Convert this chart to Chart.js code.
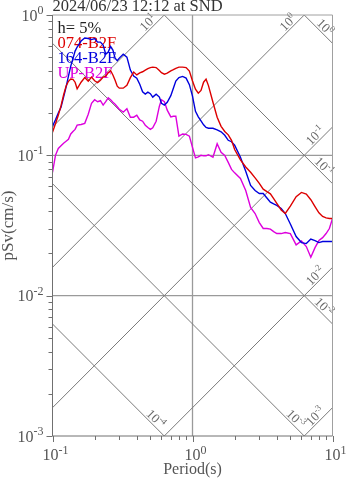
<!DOCTYPE html>
<html>
<head>
<meta charset="utf-8">
<script src="https://cdn.jsdelivr.net/npm/chart.js@4.4.1/dist/chart.umd.min.js"></script>
<style>
  html, body { margin: 0; padding: 0; background: #fff; overflow: hidden; }
  canvas { display: block; }
</style>
</head>
<body>
<canvas id="c" width="347" height="478"></canvas>
<script>
// Response spectra, pSv (cm/s) vs. period (s), h = 5%
const periods = [0.10,0.105,0.11,0.115,0.12,0.125,0.13,0.135,0.14,0.145,0.15,0.16,0.17,0.18,0.19,0.20,0.21,0.22,0.23,0.24,0.25,0.26,0.27,0.28,0.29,0.30,0.32,0.34,0.36,0.38,0.40,0.42,0.44,0.46,0.48,0.50,0.52,0.55,0.58,0.60,0.63,0.66,0.70,0.73,0.76,0.80,0.85,0.90,0.95,1.0,1.05,1.1,1.15,1.2,1.25,1.3,1.4,1.5,1.6,1.7,1.8,1.9,2.0,2.2,2.4,2.6,2.8,3.0,3.2,3.4,3.6,3.8,4.0,4.3,4.6,5.0,5.5,6.0,6.5,7.0,7.5,8.0,8.5,9.0,9.5,10];

const pSv074 = [0.146,0.168,0.193,0.225,0.269,0.311,0.337,0.350,0.348,0.332,0.298,0.332,0.358,0.338,0.361,0.340,0.330,0.343,0.361,0.367,0.387,0.402,0.374,0.343,0.311,0.301,0.301,0.316,0.358,0.392,0.374,0.387,0.394,0.405,0.415,0.422,0.425,0.422,0.402,0.388,0.379,0.385,0.400,0.408,0.417,0.425,0.425,0.422,0.398,0.339,0.296,0.277,0.290,0.332,0.349,0.314,0.239,0.187,0.161,0.148,0.140,0.128,0.110,0.0929,0.0826,0.0757,0.0691,0.0631,0.0574,0.0551,0.0532,0.0491,0.0454,0.0408,0.0385,0.0434,0.0508,0.0544,0.0529,0.0483,0.0431,0.0389,0.0367,0.0358,0.0355,0.0355];

const pSv164 = [0.161,0.179,0.200,0.220,0.260,0.306,0.367,0.432,0.489,0.553,0.591,0.652,0.685,0.680,0.668,0.680,0.641,0.641,0.611,0.526,0.544,0.596,0.562,0.493,0.473,0.493,0.526,0.501,0.405,0.367,0.355,0.321,0.284,0.273,0.282,0.275,0.260,0.273,0.260,0.235,0.228,0.239,0.266,0.301,0.338,0.358,0.365,0.355,0.319,0.264,0.206,0.188,0.176,0.165,0.158,0.156,0.156,0.152,0.147,0.139,0.128,0.125,0.118,0.0968,0.0769,0.0610,0.0562,0.0535,0.0535,0.0497,0.0464,0.0451,0.0440,0.0418,0.0385,0.0324,0.0264,0.0239,0.0235,0.0253,0.0247,0.0239,0.0243,0.0243,0.0243,0.0243];

const pSvUP = [0.0756,0.100,0.112,0.117,0.122,0.126,0.130,0.142,0.148,0.153,0.164,0.166,0.169,0.196,0.235,0.249,0.241,0.245,0.228,0.241,0.257,0.249,0.239,0.231,0.222,0.213,0.203,0.215,0.187,0.187,0.193,0.179,0.175,0.164,0.158,0.153,0.157,0.175,0.224,0.249,0.241,0.210,0.188,0.190,0.190,0.137,0.142,0.141,0.137,0.114,0.0960,0.0976,0.100,0.0992,0.0992,0.101,0.0968,0.121,0.105,0.100,0.0891,0.0794,0.0750,0.0685,0.0562,0.0425,0.0385,0.0332,0.0301,0.0301,0.0298,0.0286,0.0277,0.0277,0.0282,0.0277,0.0230,0.0245,0.0224,0.0188,0.0220,0.0247,0.0259,0.0277,0.0301,0.0355];

const seriesNames  = ['074-B2F', '164-B2F', 'UP-B2F'];
const seriesValues = [pSv074, pSv164, pSvUP];
const seriesColors = ['#dd0000', '#0000dd', '#dd00dd'];

// Axis decades (exponents of 10)
const xTickExps = [-1, 0, 1];
const yTickExps = [0, -1, -2, -3];
// Tripartite guide lines: pseudo-acceleration (cm/s^2) and displacement (cm)
const saExps = [1, 0, -1, -2, -3];
const sdExps = [0, -1, -2, -3, -4];

const titleText = '2024/06/23 12:12 at SND';
const dampingText = 'h= 5%';
const xTitle = 'Period(s)';
const yTitle = 'pSv(cm/s)';

const TWO_PI = 2 * Math.PI;
const SERIF = '"Liberation Serif", "Times New Roman", serif';

function powLabel(ctx, x, y, exp, size, align, color) {
  const base = '10', sup = String(exp);
  const supSize = Math.round(size * 0.72);
  ctx.fillStyle = color;
  ctx.textAlign = 'left';
  ctx.textBaseline = 'alphabetic';
  ctx.font = size + 'px ' + SERIF;
  const wb = ctx.measureText(base).width;
  ctx.font = supSize + 'px ' + SERIF;
  const ws = ctx.measureText(sup).width;
  const w = wb + ws;
  const x0 = align === 'right' ? x - w : (align === 'center' ? x - w / 2 : x);
  ctx.font = size + 'px ' + SERIF;
  ctx.fillText(base, x0, y);
  ctx.font = supSize + 'px ' + SERIF;
  ctx.fillText(sup, x0 + wb, y - size * 0.4);
}

const decor = {
  id: 'decor',
  beforeDatasetsDraw(chart) {
    const { ctx, chartArea: a, scales: { x, y } } = chart;
    ctx.save();
    ctx.beginPath();
    ctx.rect(a.left, a.top, a.right - a.left, a.bottom - a.top);
    ctx.clip();

    // decade grid lines
    ctx.strokeStyle = '#9a9a9a';
    ctx.lineWidth = 1.3;
    xTickExps.forEach(e => {
      const px = x.getPixelForValue(Math.pow(10, e));
      if (px > a.left + 1 && px < a.right - 1) {
        ctx.beginPath(); ctx.moveTo(px, a.top); ctx.lineTo(px, a.bottom); ctx.stroke();
      }
    });
    yTickExps.forEach(e => {
      const py = y.getPixelForValue(Math.pow(10, e));
      if (py > a.top + 1 && py < a.bottom - 1) {
        ctx.beginPath(); ctx.moveTo(a.left, py); ctx.lineTo(a.right, py); ctx.stroke();
      }
    });

    // constant acceleration / displacement lines
    ctx.strokeStyle = '#7a7a7a';
    ctx.lineWidth = 1;
    const seg = (t1, v1, t2, v2) => {
      ctx.beginPath();
      ctx.moveTo(x.getPixelForValue(t1), y.getPixelForValue(v1));
      ctx.lineTo(x.getPixelForValue(t2), y.getPixelForValue(v2));
      ctx.stroke();
    };
    saExps.forEach(k => { const sa = Math.pow(10, k); seg(0.1, sa * 0.1 / TWO_PI, 10, sa * 10 / TWO_PI); });
    sdExps.forEach(k => { const sd = Math.pow(10, k); seg(0.1, TWO_PI * sd / 0.1, 10, TWO_PI * sd / 10); });
    ctx.restore();

    // guide-line labels, placed near the right-hand end of each line
    const labSize = 13;
    const drawGuideLabel = (tEnd, vEnd, tRef, vRef, exp) => {
      const ex = x.getPixelForValue(tEnd), ey = y.getPixelForValue(vEnd);
      const rx = x.getPixelForValue(tRef), ry = y.getPixelForValue(vRef);
      const ang = Math.atan2(ey - ry, ex - rx);
      ctx.save();
      ctx.translate(ex, ey);
      ctx.rotate(ang);
      powLabel(ctx, -8, -2, exp, labSize, 'right', '#6a6a6a');
      ctx.restore();
    };
    saExps.forEach(k => {
      const sa = Math.pow(10, k);
      const tTop = TWO_PI * 1 / sa;
      if (tTop < 10) drawGuideLabel(tTop, 1, tTop / 2, 0.5, k);
      else drawGuideLabel(10, sa * 10 / TWO_PI, 5, sa * 5 / TWO_PI, k);
    });
    sdExps.forEach(k => {
      const sd = Math.pow(10, k);
      const tBot = TWO_PI * sd / 0.001;
      if (tBot < 10) drawGuideLabel(tBot, 0.001, tBot / 2, 0.002, k);
      else drawGuideLabel(10, TWO_PI * sd / 10, 5, TWO_PI * sd / 5, k);
    });

    // damping and station legend
    ctx.save();
    ctx.textAlign = 'left';
    ctx.textBaseline = 'alphabetic';
    ctx.font = '16.5px ' + SERIF;
    ctx.fillStyle = '#222';
    ctx.fillText(dampingText, a.left + 5, a.top + 18);
    seriesNames.forEach((n, i) => {
      ctx.fillStyle = seriesColors[i];
      ctx.fillText(n, a.left + 5, a.top + 33 + i * 15);
    });
    ctx.restore();
  },
  afterDatasetsDraw(chart) {
    const { ctx, chartArea: a, scales: { x, y } } = chart;
    ctx.save();
    // frame
    ctx.lineWidth = 1;
    ctx.strokeStyle = '#a0a0a0';
    ctx.beginPath();
    ctx.moveTo(a.left, a.top); ctx.lineTo(a.right, a.top); ctx.lineTo(a.right, a.bottom);
    ctx.stroke();
    ctx.strokeStyle = '#707070';
    ctx.beginPath();
    ctx.moveTo(a.left, a.top); ctx.lineTo(a.left, a.bottom); ctx.lineTo(a.right, a.bottom);
    ctx.stroke();

    // tick marks (outward), decades and 2..9 subdivisions
    ctx.strokeStyle = '#707070';
    for (let e = -1; e <= 1; e++) {
      for (let m = 1; m <= 9; m++) {
        const v = m * Math.pow(10, e);
        if (v < 0.1 - 1e-9 || v > 10 + 1e-9) continue;
        const px = Math.round(x.getPixelForValue(v)) + 0.5;
        const len = m === 1 ? 6 : 4;
        ctx.beginPath(); ctx.moveTo(px, a.bottom); ctx.lineTo(px, a.bottom + len); ctx.stroke();
      }
    }
    for (let e = -3; e <= 0; e++) {
      for (let m = 1; m <= 9; m++) {
        const v = m * Math.pow(10, e);
        if (v < 0.001 - 1e-12 || v > 1 + 1e-9) continue;
        const py = Math.round(y.getPixelForValue(v)) + 0.5;
        const len = m === 1 ? 6 : 4;
        ctx.beginPath(); ctx.moveTo(a.left, py); ctx.lineTo(a.left - len, py); ctx.stroke();
      }
    }

    // tick labels
    xTickExps.forEach(e => {
      const px = x.getPixelForValue(Math.pow(10, e));
      powLabel(ctx, px + 3, a.bottom + 24, e, 16, 'center', '#555');
    });
    yTickExps.forEach(e => {
      const py = y.getPixelForValue(Math.pow(10, e));
      powLabel(ctx, a.left - 9, py + 5.5, e, 16, 'right', '#555');
    });

    // titles
    ctx.fillStyle = '#555';
    ctx.font = '16px ' + SERIF;
    ctx.textAlign = 'center';
    ctx.textBaseline = 'alphabetic';
    ctx.fillText(xTitle, (a.left + a.right) / 2, 474);
    ctx.save();
    ctx.translate(13, (a.top + a.bottom) / 2);
    ctx.rotate(-Math.PI / 2);
    ctx.font = '17px ' + SERIF;
    ctx.fillText(yTitle, 0, 0);
    ctx.restore();

    ctx.fillStyle = '#333';
    ctx.font = '16.5px ' + SERIF;
    ctx.textAlign = 'left';
    ctx.fillText(titleText, a.left, 11);
    ctx.restore();
  }
};

const ctx = document.getElementById('c').getContext('2d');
new Chart(ctx, {
  type: 'line',
  data: {
    datasets: seriesNames.map((n, i) => ({
      label: n,
      data: periods.map((t, j) => ({ x: t, y: seriesValues[i][j] })),
      borderColor: seriesColors[i],
      backgroundColor: seriesColors[i],
      borderWidth: 1.4,
      pointRadius: 0,
      tension: 0,
      fill: false
    }))
  },
  options: {
    responsive: false,
    animation: false,
    devicePixelRatio: 1,
    layout: { padding: { left: 52.5, top: 15, right: 14.5, bottom: 42 } },
    plugins: { legend: { display: false }, tooltip: { enabled: false }, title: { display: false } },
    scales: {
      x: { type: 'logarithmic', min: 0.1, max: 10, display: false },
      y: { type: 'logarithmic', min: 0.001, max: 1, display: false }
    }
  },
  plugins: [decor]
});
</script>
</body>
</html>
